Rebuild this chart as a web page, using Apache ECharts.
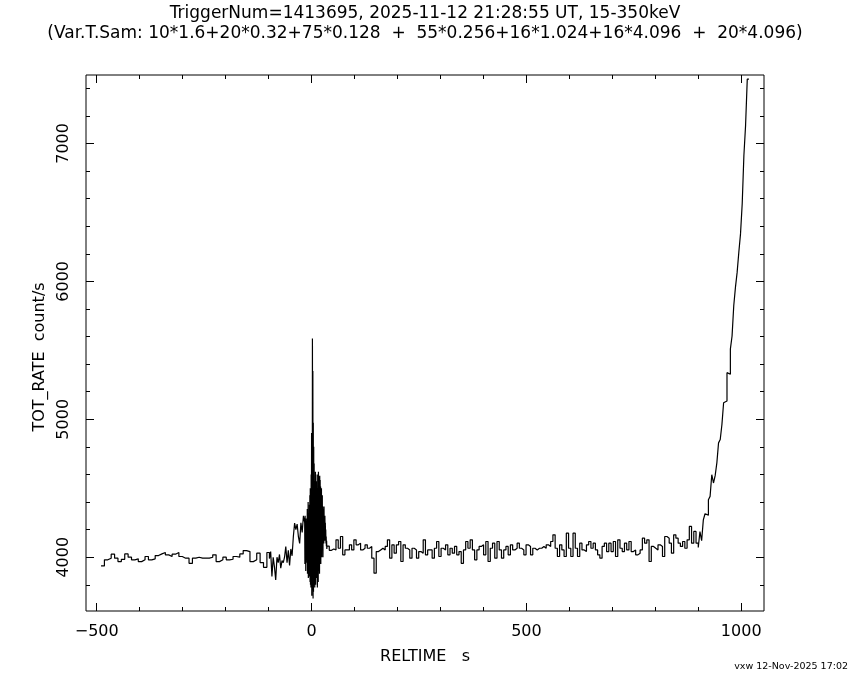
<!DOCTYPE html>
<html>
<head>
<meta charset="utf-8">
<title>TOT_RATE vs RELTIME</title>
<script src="https://cdn.jsdelivr.net/npm/echarts@6/dist/echarts.min.js"></script>
<style>
  html, body { margin: 0; padding: 0; background: #fff; }
  #chart { width: 850px; height: 680px; }
</style>
</head>
<body>
<div id="chart"></div>
<script>
// axis ranges and ticks
const xRange = [-525, 1053];
const yRange = [3610, 7496];
const xMajor = [-500, 0, 500, 1000];
const xMinor = [-400, -300, -200, -100, 100, 200, 300, 400, 600, 700, 800, 900];
const yMajor = [4000, 5000, 6000, 7000];
const yMinor = [3800, 4200, 4400, 4600, 4800, 5200, 5400, 5600, 5800, 6200, 6400, 6600, 6800, 7200, 7400];

// light curve, segment by segment (start, end, rates)
const preEdges = [-490, -104];
const preRate = [3937, 3981, 3993, 4022, 3993, 3968, 3985, 4024, 4000, 3981, 3988, 3968, 3981, 4005, 3981, 3988,
  4012, 4024, 4034, 4017, 4005, 4022, 4034, 4005, 3993, 3993, 3956, 3993, 4000, 3993, 3993, 3993,
  4000, 4017, 3968, 3981, 4000, 3981, 3985, 4005, 4000, 4024, 4048, 4041, 3968, 3981, 4029, 3961, 3927];

const riseEdges = [-104, -16];
const riseRate = [4034, 4034, 3990, 4041, 3860, 4000, 3930, 3835, 4000, 3960, 4020, 3920, 3975, 3960, 4000,
  4077, 3960, 4050, 3940, 4060, 4010, 4150, 4247, 4200, 4240, 4150, 4100, 4250, 4180, 4300];

// fine bins around the trigger (0.5 s)
const burstEdges = [-16, 36];
const burstRate = [
  4250, 3950, 4300, 4050, 4200, 3900, 4280, 4000, 4150, 3980, 4220, 3960,
  4350, 3880, 4300, 3900, 4400, 3850, 4320, 3870, 4250, 3860, 4380, 3900,
  4450, 3820, 4500, 3800, 4350, 3780, 4600, 3850,
  4900, 3720, 4700, 3760, 5585, 4100, 5350, 3700,
  4975, 3750, 4800, 3800, 4680, 3820, 4550, 3780,
  4500, 3850, 4620, 3800, 4450, 3900, 4550, 3850,
  4400, 3880, 4600, 3780, 4350, 3900, 4500, 3820,
  4620, 3900, 4586, 3950, 4500, 3880, 4590, 3950,
  4560, 4000, 4513, 3950, 4450, 4050, 4500, 4000,
  4400, 4050, 4450, 4100, 4368, 4000, 4350, 4150,
  4300, 4100, 4368, 4150, 4250, 4120, 4300, 4180,
  4250, 4150, 4200, 4100, 4150, 4080, 4120, 4060];

const postEdges = [36, 900];
const postRate = [4080, 4050, 4060,
  4053, 4126, 4065, 4150, 4017, 4053, 4053, 4090, 4053, 4126, 4090, 4102, 4053, 4065, 4090, 4065,
  4078, 3993, 3884, 4041, 4053, 4065, 4053, 4078, 4126, 3993, 4090, 4029, 4090, 4114, 3969, 4090,
  4065, 4053, 3993, 4065, 4053, 3993, 4041, 4029, 4126, 4017, 4053, 4053, 3993, 4065, 4114, 4005,
  4065, 4053, 4090, 4017,
  4065, 4029, 4078, 4017, 4041, 3956, 4053, 4114, 4065, 4126, 4053, 3981, 4053, 4078, 4090, 4017,
  4114, 3969, 4065, 4102, 3993, 4114, 4053, 3993, 4053, 4078, 4017, 4090, 4053, 4065, 4102, 4065,
  4053, 4017, 4090, 4078, 4017, 4065, 4053, 4065, 4065, 4078, 4065, 4090, 4078, 4114, 4162, 4065,
  4005, 4090, 4053, 4005, 4174, 4065, 4005,
  4174, 4065, 4005, 4102, 4053, 4041, 4090, 4114, 4065, 4102, 4053, 4017, 3993, 4078, 4102, 4041,
  4102, 4041, 4114, 4005, 4126, 4065, 4041, 4102, 4053, 4114, 4041, 4053, 4017, 4029, 4053, 4138,
  4102, 4126, 3969, 4078, 4065, 4053, 4090, 4078, 4005, 4150, 4138, 4102, 4029, 4162, 4138, 4102,
  4078, 4114, 4065, 4126, 4223, 4102, 4187, 4102];

const lateEdges = [900, 1018];
const lateRate = [4070, 4186, 4120, 4271, 4315, 4305, 4417, 4441, 4598, 4538, 4591, 4684, 4829, 4853, 4962,
  5120, 5132, 5338, 5326, 5509, 5604, 5823, 5956, 6065, 6211, 6344, 6562, 6913, 7131, 7466];

const FONT = 'DejaVu Sans';

// turn bins into a histogram-style step path
function histPoints(edges, vals) {
  const w = (edges[1] - edges[0]) / vals.length;
  const pts = [];
  vals.forEach((v, i) => {
    pts.push([edges[0] + i * w, v], [edges[0] + (i + 1) * w, v]);
  });
  return pts;
}

const curve = [].concat(
  histPoints(preEdges, preRate),
  histPoints(riseEdges, riseRate),
  histPoints(burstEdges, burstRate),
  histPoints(postEdges, postRate),
  histPoints(lateEdges, lateRate)
);

// one axis per tick set (major / minor, both sides), all sharing the same range
function tickAxis(range, position, ticks, len, extra) {
  return Object.assign({
    type: 'value',
    position: position,
    min: range[0],
    max: range[1],
    axisLine: { show: false, onZero: false },
    axisTick: { show: true, inside: true, length: len, customValues: ticks, lineStyle: { color: '#000', width: 1 } },
    axisLabel: { show: false },
    splitLine: { show: false },
  }, extra || {});
}

const chart = echarts.init(document.getElementById('chart'), null, { renderer: 'canvas' });

chart.setOption({
  animation: false,
  backgroundColor: '#fff',
  title: [{
    text: 'TriggerNum=1413695, 2025-11-12 21:28:55 UT, 15-350keV\n(Var.T.Sam: 10*1.6+20*0.32+75*0.128  +  55*0.256+16*1.024+16*4.096  +  20*4.096)',
    left: 'center',
    top: 4,
    padding: 0,
    textStyle: { fontFamily: FONT, fontSize: 17, fontWeight: 'normal', color: '#000', lineHeight: 20 },
  }, {
    text: 'vxw 12-Nov-2025 17:02',
    right: 2,
    bottom: 8,
    padding: 0,
    textStyle: { fontFamily: FONT, fontSize: 9.5, fontWeight: 'normal', color: '#000' },
  }],
  grid: {
    left: 86,
    right: 86,
    top: 75,
    bottom: 69,
    show: true,
    borderColor: '#000',
    borderWidth: 1,
    backgroundColor: 'transparent',
  },
  xAxis: [
    tickAxis(xRange, 'bottom', xMajor, 8, {
      axisLabel: {
        show: true,
        customValues: xMajor,
        margin: 13,
        color: '#000',
        fontFamily: FONT,
        fontSize: 16,
        formatter: (v) => String(v).replace('-', '\u2212'),
      },
      name: 'RELTIME   s',
      nameLocation: 'middle',
      nameGap: 38,
      nameMoveOverlap: false,
      nameTextStyle: { fontFamily: FONT, fontSize: 16, color: '#000' },
    }),
    tickAxis(xRange, 'bottom', xMinor, 4),
    tickAxis(xRange, 'top', xMajor, 8),
    tickAxis(xRange, 'top', xMinor, 4),
  ],
  yAxis: [
    tickAxis(yRange, 'left', yMajor, 8, {
      axisLabel: {
        show: true,
        customValues: yMajor,
        rotate: 90,
        margin: 14,
        color: '#000',
        fontFamily: FONT,
        fontSize: 16,
        formatter: (v) => String(v),
      },
      name: 'TOT_RATE  count/s',
      nameLocation: 'middle',
      nameGap: 38,
      nameRotate: 90,
      nameMoveOverlap: false,
      nameTextStyle: { fontFamily: FONT, fontSize: 16, color: '#000', padding: [0, 28, 0, 0] },
    }),
    tickAxis(yRange, 'left', yMinor, 4),
    tickAxis(yRange, 'right', yMajor, 8),
    tickAxis(yRange, 'right', yMinor, 4),
  ],
  series: [{
    name: 'TOT_RATE',
    type: 'line',
    xAxisIndex: 0,
    yAxisIndex: 0,
    data: curve,
    showSymbol: false,
    symbol: 'none',
    sampling: null,
    clip: true,
    silent: true,
    lineStyle: { color: '#000', width: 1.2 },
  }],
});
</script>
</body>
</html>
